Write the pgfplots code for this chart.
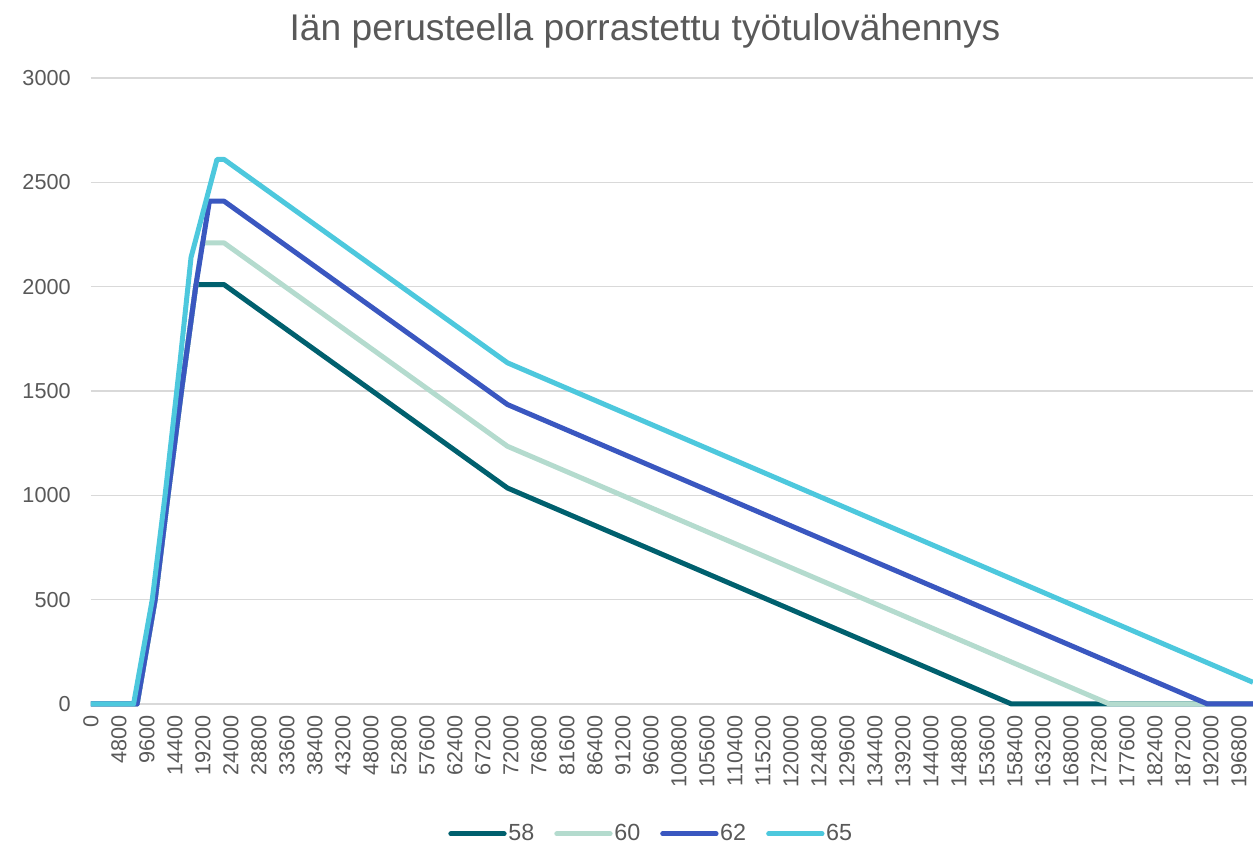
\documentclass[border=0pt]{standalone}
\usepackage{fontspec}
\setmainfont{Liberation Sans}
\usepackage{pgfplots}
\pgfplotsset{compat=1.18}
\definecolor{c58}{RGB}{0,96,110}
\definecolor{c60}{RGB}{180,219,206}
\definecolor{c62}{RGB}{58,87,192}
\definecolor{c65}{RGB}{77,200,221}
\definecolor{txt}{RGB}{89,89,89}
\definecolor{gridc}{RGB}{217,217,217}
\begin{document}
\begin{tikzpicture}[x=0.6pt,y=0.6pt]
\useasboundingbox (0,0) rectangle (1253,848);
\node[text=txt, font=\fontsize{22.3}{26}\selectfont] at (645,817) {Iän perusteella porrastettu työtulovähennys};
\begin{axis}[
  at={(54.6pt,86.4pt)}, anchor=south west,
  scale only axis, width=697.2pt, height=375.6pt,
  xmin=0, xmax=199200, ymin=0, ymax=3000,
  axis line style={draw=none},
  major tick length=0pt,
  ymajorgrids, grid style={gridc, line width=0.9pt},
  ytick={0,500,...,3000},
  xtick={0,4800,...,196800},
  scaled x ticks=false, scaled y ticks=false,
  /pgf/number format/assume math mode=true,
  /pgf/number format/.cd, fixed, precision=0, 1000 sep={}, /pgfplots/.cd,
  ticklabel style={text=txt, font=\fontsize{13}{15}\selectfont},
  xticklabel style={rotate=90, anchor=east, inner sep=0pt},
  xticklabel shift=6.6pt,
  yticklabel style={anchor=east, inner sep=0pt},
  yticklabel shift=12pt,
  clip=false,
  legend style={at={(0.482,-0.2075)}, anchor=center, draw=none, fill=none,
    legend columns=-1, font=\fontsize{14}{16}\selectfont, text=txt,
    /tikz/every even column/.append style={column sep=11pt},
    /tikz/every odd column/.append style={column sep=0pt},
    nodes={inner sep=1pt}},
  legend image code/.code={\draw[#1, line width=3pt, line cap=round] (0pt,0pt) -- (32pt,0pt);},
  every axis plot/.append style={line width=3pt, line join=round},
]
\addplot[c58] coordinates {(0,0) (7900,0) (11000,500) (13200,1000) (15600,1520) (18000,2010) (22800,2010) (71400,1035) (157800,0) (199200,0)};
\addlegendentry{58}
\addplot[c60] coordinates {(0,0) (7900,0) (11000,500) (13200,1000) (15600,1520) (18000,2010) (19100,2210) (22800,2210) (71400,1235) (174600,0) (199200,0)};
\addlegendentry{60}
\addplot[c62] coordinates {(0,0) (7900,0) (11000,500) (13200,1000) (15600,1520) (18000,2010) (20300,2410) (22800,2410) (71400,1435) (191400,0) (199200,0)};
\addlegendentry{62}
\addplot[c65] coordinates {(0,0) (7300,0) (10500,500) (12700,1000) (15300,1650) (17150,2140) (21600,2610) (22800,2610) (71400,1635) (199200,104)};
\addlegendentry{65}
\end{axis}
\end{tikzpicture}
\end{document}
